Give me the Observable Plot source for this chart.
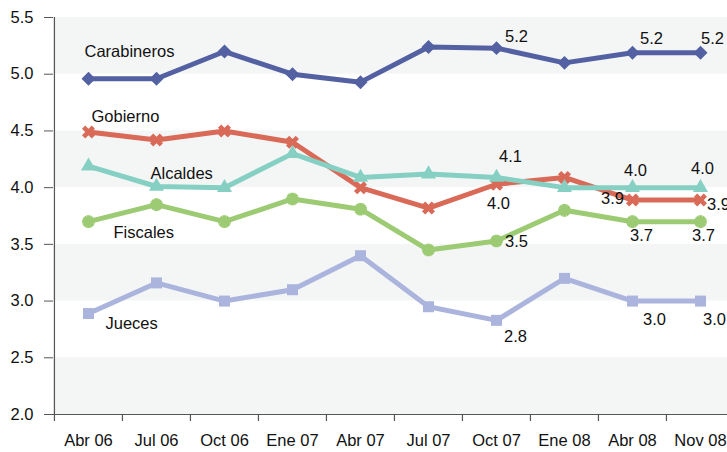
<!DOCTYPE html>
<html><head><meta charset="utf-8">
<script src="https://cdn.jsdelivr.net/npm/d3@7"></script>
<script src="https://cdn.jsdelivr.net/npm/@observablehq/plot@0.6"></script>
<style>html,body{margin:0;padding:0;overflow:hidden;background:#fff;}</style>
</head><body><div id="chart"></div>
<script>
// ---- data ----
const categories = ["Abr 06","Jul 06","Oct 06","Ene 07","Abr 07","Jul 07","Oct 07","Ene 08","Abr 08","Nov 08"];
const carabineros = [4.96,4.96,5.20,5.00,4.93,5.24,5.23,5.10,5.19,5.19];
const gobierno    = [4.49,4.42,4.50,4.40,4.00,3.82,4.03,4.09,3.89,3.89];
const alcaldes    = [4.19,4.01,4.00,4.30,4.09,4.12,4.09,4.00,4.00,4.00];
const fiscales    = [3.70,3.85,3.70,3.90,3.81,3.45,3.53,3.80,3.70,3.70];
const jueces      = [2.89,3.16,3.00,3.10,3.40,2.95,2.83,3.20,3.00,3.00];
const yTicks = [2.0,2.5,3.0,3.5,4.0,4.5,5.0,5.5];
const shadedBands = [[2.0,2.5],[3.0,3.5],[4.0,4.5],[5.0,5.5]];
const seriesNames = ["Carabineros","Gobierno","Alcaldes","Fiscales","Jueces"];
const seriesValues = [carabineros, gobierno, alcaldes, fiscales, jueces];

// ---- styles ----
const colors = {Carabineros:"#5361a3", Gobierno:"#d96a58", Alcaldes:"#85d0c3", Fiscales:"#9ccb74", Jueces:"#abb4dc"};
const markers = {
  Carabineros:[{symbol:"diamond2", r:6.3, rotate:0}],
  Gobierno:[{symbol:"cross", r:5.8, rotate:45}],
  Alcaldes:[{symbol:"triangle", r:5.6, rotate:0}],
  Fiscales:[{symbol:"cross", r:5.3, rotate:0},{symbol:"cross", r:5.3, rotate:45}],
  Jueces:[{symbol:"square", r:6.2, rotate:0}]
};
// series name labels: anchored at a point, offset in px
const nameLabels = [
  {series:"Carabineros", category:"Abr 06", dx:-4, dy:-27},
  {series:"Gobierno", category:"Abr 06", dx:3, dy:-15},
  {series:"Alcaldes", category:"Jul 06", dx:-6, dy:-13},
  {series:"Fiscales", category:"Abr 06", dx:25, dy:11},
  {series:"Jueces", category:"Abr 06", dx:17, dy:10}
];
// value labels
const valueLabels = [
  {series:"Carabineros", category:"Oct 07", dx:20, dy:-11},
  {series:"Carabineros", category:"Abr 08", dx:19, dy:-14},
  {series:"Carabineros", category:"Nov 08", dx:12, dy:-14},
  {series:"Alcaldes", category:"Oct 07", dx:14, dy:-21},
  {series:"Alcaldes", category:"Abr 08", dx:3, dy:-17},
  {series:"Alcaldes", category:"Nov 08", dx:2, dy:-19},
  {series:"Gobierno", category:"Oct 07", dx:2, dy:19},
  {series:"Gobierno", category:"Abr 08", dx:-20, dy:-1},
  {series:"Gobierno", category:"Nov 08", dx:18, dy:5},
  {series:"Fiscales", category:"Oct 07", dx:20, dy:1},
  {series:"Fiscales", category:"Abr 08", dx:9, dy:14},
  {series:"Fiscales", category:"Nov 08", dx:3, dy:14},
  {series:"Jueces", category:"Oct 07", dx:19, dy:16},
  {series:"Jueces", category:"Abr 08", dx:22, dy:19},
  {series:"Jueces", category:"Nov 08", dx:14, dy:19}
];

// ---- build table ----
const rows = [];
seriesNames.forEach((s, si) => categories.forEach((c, ci) => rows.push({series:s, category:c, value:seriesValues[si][ci]})));
const find = (s, c) => rows.find(d => d.series === s && d.category === c);

const W = 745, marginLeft = 53, marginRight = 11;
const bw = (W - marginLeft - marginRight) / categories.length;
const font = "Liberation Sans, Arial, Helvetica, sans-serif";
const fs = 16.5;

const marks = [
  Plot.rect(shadedBands, {y1: d => d[0], y2: d => d[1], fill: "#f4f6f6"}),
  Plot.ruleY([2.0], {stroke: "#555", strokeWidth: 1.2}),
  Plot.ruleX([categories[0]], {x: d => d, y1: 2.0, y2: 5.5, dx: -bw/2, stroke: "#555", strokeWidth: 1.2}),
  Plot.ruleX(categories, {x: d => d, y1: 2.0, y2: 2.0, insetBottom: -7, dx: -bw/2, stroke: "#555", strokeWidth: 1.2}),
  Plot.axisY({ticks: yTicks, tickFormat: d3.format(".1f"), tickSize: 9, tickPadding: 11, stroke: "#555", fontSize: fs, label: null}),
  Plot.axisX({tickSize: 0, tickPadding: 20, fontSize: fs, label: null})
];
seriesNames.forEach(s => {
  const data = rows.filter(d => d.series === s);
  marks.push(Plot.line(data, {x: "category", y: "value", stroke: colors[s], strokeWidth: 5, strokeLinejoin: "miter"}));
  markers[s].forEach(m => marks.push(Plot.dot(data, {x: "category", y: "value", symbol: m.symbol, r: m.r, rotate: m.rotate, fill: colors[s], stroke: "none"})));
});
nameLabels.forEach(l => marks.push(Plot.text([find(l.series, l.category)], {x: "category", y: "value", text: () => l.series, dx: l.dx, dy: l.dy, textAnchor: "start", fontSize: fs, fill: "#111"})));
valueLabels.forEach(l => marks.push(Plot.text([find(l.series, l.category)], {x: "category", y: "value", text: d => d3.format(".1f")(d.value), dx: l.dx, dy: l.dy, fontSize: fs, fill: "#111"})));

const chart = Plot.plot({
  width: W, height: 452,
  marginLeft, marginRight, marginTop: 17, marginBottom: 38,
  style: {fontFamily: font, fontSize: fs + "px", background: "#fff", color: "#111", maxWidth: "none"},
  x: {type: "band", domain: categories, padding: 0, axis: null},
  y: {domain: [2.0, 5.5], axis: null},
  marks
});
chart.style.maxWidth = "none";
document.getElementById("chart").appendChild(chart);
</script></body></html>
